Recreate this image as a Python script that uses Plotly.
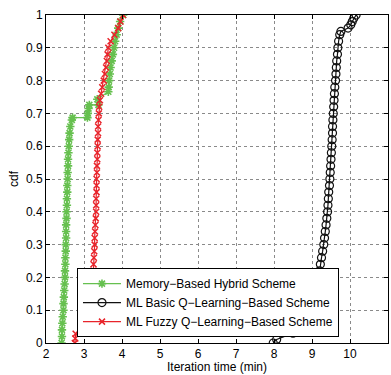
import plotly.graph_objects as go

# Memory-Based Hybrid Scheme
mem_x = [2.41, 2.42, 2.42, 2.43, 2.44, 2.46, 2.46, 2.47, 2.48, 2.49, 2.50, 2.50, 2.51, 2.51,
         2.52, 2.52, 2.53, 2.53, 2.53, 2.54, 2.54, 2.55, 2.55, 2.56, 2.56, 2.57, 2.57, 2.58,
         2.58, 2.59, 2.60, 2.61, 2.62, 2.64, 2.68, 2.70, 3.09, 3.10, 3.12, 3.14, 3.38, 3.35,
         3.64, 3.65, 3.66, 3.68, 3.70, 3.73, 3.76, 3.79, 3.82, 3.86, 3.90, 3.95, 4.03]
mem_y = [0.00, 0.02, 0.04, 0.06, 0.08, 0.10, 0.12, 0.14, 0.16, 0.18, 0.20, 0.22, 0.24, 0.26,
         0.28, 0.30, 0.32, 0.34, 0.36, 0.38, 0.40, 0.42, 0.44, 0.46, 0.48, 0.50, 0.52, 0.54,
         0.56, 0.58, 0.60, 0.62, 0.64, 0.66, 0.68, 0.687, 0.687, 0.70, 0.715, 0.726, 0.726, 0.743,
         0.766, 0.78, 0.80, 0.82, 0.84, 0.86, 0.88, 0.90, 0.92, 0.94, 0.96, 0.98, 1.00]

# ML Basic Q-Learning-Based Scheme
basic_x = [7.98, 8.07, 8.50, 8.90, 9.00, 9.05, 9.08, 9.10, 9.12, 9.15,
           9.18, 9.20, 9.22, 9.25, 9.28, 9.31, 9.33, 9.35, 9.37, 9.39, 9.41, 9.42, 9.43, 9.44,
           9.46, 9.47, 9.48, 9.49, 9.50, 9.51, 9.52, 9.53, 9.54, 9.54, 9.55, 9.56, 9.57, 9.58,
           9.59, 9.60, 9.62, 9.63, 9.64, 9.65, 9.67, 9.68, 9.70, 9.73, 9.76, 9.95, 10.02, 10.06,
           10.10, 10.16]
basic_y = [0.00, 0.011, 0.03, 0.05, 0.08, 0.10, 0.12, 0.14, 0.16, 0.18,
           0.20, 0.22, 0.24, 0.26, 0.28, 0.30, 0.32, 0.34, 0.36, 0.38, 0.40, 0.42, 0.44, 0.46,
           0.48, 0.50, 0.52, 0.54, 0.56, 0.58, 0.60, 0.62, 0.64, 0.66, 0.68, 0.70, 0.72, 0.74,
           0.76, 0.78, 0.80, 0.82, 0.84, 0.86, 0.88, 0.90, 0.92, 0.94, 0.95, 0.96, 0.97, 0.98,
           0.99, 1.00]

# ML Fuzzy Q-Learning-Based Scheme
fuzzy_x = [2.76, 2.77, 2.78, 3.00, 3.10, 3.15, 3.18, 3.20, 3.22, 3.23,
           3.24, 3.25, 3.25, 3.26, 3.27, 3.28, 3.28, 3.29, 3.30, 3.31, 3.32, 3.32, 3.32, 3.33,
           3.33, 3.33, 3.34, 3.34, 3.35, 3.35, 3.36, 3.36, 3.37, 3.37, 3.38, 3.39, 3.40, 3.42,
           3.45, 3.48, 3.52, 3.55, 3.58, 3.60, 3.62, 3.64, 3.70, 3.80, 3.90, 3.96, 4.03]
fuzzy_y = [0.00, 0.014, 0.028, 0.06, 0.08, 0.10, 0.12, 0.14, 0.16, 0.18,
           0.20, 0.22, 0.24, 0.26, 0.28, 0.30, 0.32, 0.34, 0.36, 0.38, 0.40, 0.42, 0.44, 0.46,
           0.48, 0.50, 0.52, 0.54, 0.56, 0.58, 0.60, 0.62, 0.64, 0.66, 0.68, 0.70, 0.72, 0.74,
           0.76, 0.78, 0.80, 0.82, 0.84, 0.86, 0.88, 0.90, 0.92, 0.94, 0.96, 0.98, 1.00]

x_ticks = [2, 3, 4, 5, 6, 7, 8, 9, 10, 11]
y_ticks = [0, 0.1, 0.2, 0.3, 0.4, 0.5, 0.6, 0.7, 0.8, 0.9, 1]
y_tick_labels = ["0", "0.1", "0.2", "0.3", "0.4", "0.5", "0.6", "0.7", "0.8", "0.9", "1"]

GREEN = "#66c04f"
RED = "#e8242b"
BLACK = "#111111"
FONT = "Liberation Sans, Arial, sans-serif"

fig = go.Figure()
fig.add_trace(go.Scatter(
    x=mem_x, y=mem_y, mode="lines+markers",
    name="Memory\u2212Based Hybrid Scheme",
    line=dict(color=GREEN, width=1.3),
    marker=dict(symbol="asterisk-open", size=7, color=GREEN, line=dict(color=GREEN, width=1.6)),
))
fig.add_trace(go.Scatter(
    x=basic_x, y=basic_y, mode="lines+markers",
    name="ML Basic Q\u2212Learning\u2212Based Scheme",
    line=dict(color=BLACK, width=1.2),
    marker=dict(symbol="circle-open", size=8, color=BLACK, line=dict(color=BLACK, width=1.2)),
))
fig.add_trace(go.Scatter(
    x=fuzzy_x, y=fuzzy_y, mode="lines+markers",
    name="ML Fuzzy Q\u2212Learning\u2212Based Scheme",
    line=dict(color=RED, width=1.2),
    marker=dict(symbol="x-thin-open", size=6, color=RED, line=dict(color=RED, width=1.5)),
))

axis_common = dict(
    showline=True, linecolor="black", linewidth=1, mirror="ticks",
    ticks="inside", ticklen=4, tickcolor="black",
    showgrid=True, gridcolor="#8a8a8a", griddash="dot", gridwidth=1,
    zeroline=False, automargin=False,
    tickfont=dict(family=FONT, size=12, color="black"),
)

fig.update_xaxes(range=[2, 11], tickvals=x_ticks, **axis_common)
fig.update_yaxes(range=[0, 1], tickvals=y_ticks, ticktext=y_tick_labels, **axis_common)

fig.update_layout(
    width=391, height=375,
    margin=dict(l=46, r=3, t=15, b=32, autoexpand=False),
    plot_bgcolor="white", paper_bgcolor="white",
    font=dict(family=FONT, size=11, color="black"),
    showlegend=True,
    legend=dict(
        x=0.0906, y=0.018, xanchor="left", yanchor="bottom",
        bgcolor="white", bordercolor="black", borderwidth=1,
        font=dict(family=FONT, size=12, color="black"),
        tracegroupgap=0, itemwidth=38,
    ),
    annotations=[
        dict(text="Iteration time (min)", xref="paper", yref="paper", x=0.5, y=0,
             yshift=-24, xanchor="center", yanchor="middle", showarrow=False,
             font=dict(family=FONT, size=12, color="black")),
        dict(text="cdf", xref="paper", yref="paper", x=0, y=0.5, xshift=-32,
             xanchor="center", yanchor="middle", textangle=-90, showarrow=False,
             font=dict(family=FONT, size=12, color="black")),
    ],
)

fig.write_html("out.html", config={"displayModeBar": False},
               post_script="document.body.style.margin='0';document.body.style.overflow='hidden';")
